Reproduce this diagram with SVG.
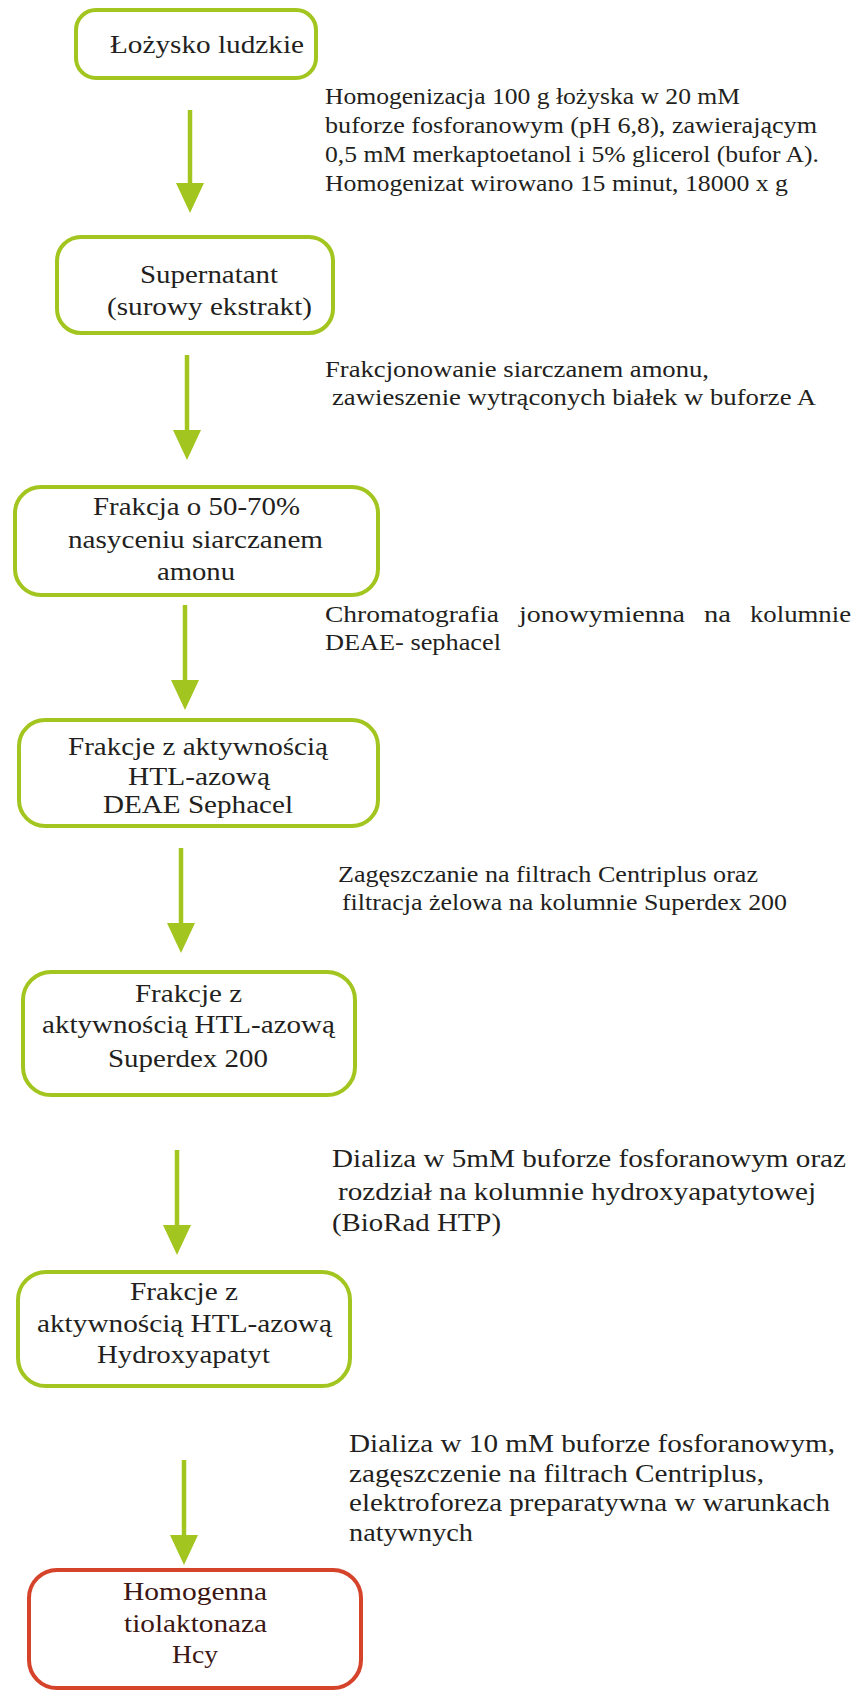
<svg xmlns="http://www.w3.org/2000/svg" width="861" height="1690" viewBox="0 0 861 1690">
<style>
.box{fill:#ffffff;stroke:#a3c51f;stroke-width:4}
.red{fill:#ffffff;stroke:#d4432a;stroke-width:4}
.bt{font-family:"Liberation Serif","Times New Roman",serif;font-size:25px;fill:#231f20}
.rt{font-family:"Liberation Serif","Times New Roman",serif;font-size:25px;fill:#3b1612}
.d{font-family:"Liberation Serif","Times New Roman",serif;font-size:24px;fill:#231f20}
.d2{font-family:"Liberation Serif","Times New Roman",serif;font-size:25px;fill:#231f20}
.arr{stroke:#a3c51f;stroke-width:4.5;fill:none}
</style>
<defs>
<marker id="ah" markerUnits="userSpaceOnUse" viewBox="0 0 30 28" markerWidth="30" markerHeight="28" refX="0" refY="14" orient="auto">
<path d="M0,0 L30,14 L0,28 Z" fill="#a3c51f"/>
</marker>
</defs>
<rect width="861" height="1690" fill="#ffffff"/>

<g id="connectors">
<line class="arr" x1="190" y1="110" x2="190" y2="183" marker-end="url(#ah)"/>
<line class="arr" x1="187" y1="355" x2="187" y2="430" marker-end="url(#ah)"/>
<line class="arr" x1="185" y1="605" x2="185" y2="680" marker-end="url(#ah)"/>
<line class="arr" x1="181" y1="848" x2="181" y2="923" marker-end="url(#ah)"/>
<line class="arr" x1="177" y1="1150" x2="177" y2="1225" marker-end="url(#ah)"/>
<line class="arr" x1="184" y1="1460" x2="184" y2="1535" marker-end="url(#ah)"/>
</g>

<g id="node1">
<rect class="box" x="76" y="10" width="240" height="68" rx="20"/>
<text class="bt" style="font-size:26px" x="110" y="53" textLength="194" lengthAdjust="spacingAndGlyphs">Łożysko ludzkie</text>
</g>

<g id="node2">
<rect class="box" x="57" y="237" width="276" height="96" rx="24"/>
<text class="bt" x="140" y="283" textLength="138" lengthAdjust="spacingAndGlyphs">Supernatant</text>
<text class="bt" x="107" y="315" textLength="205" lengthAdjust="spacingAndGlyphs">(surowy ekstrakt)</text>
</g>

<g id="node3">
<rect class="box" x="15" y="487" width="363" height="108" rx="26"/>
<text class="bt" x="93" y="515" textLength="207" lengthAdjust="spacingAndGlyphs">Frakcja o 50-70%</text>
<text class="bt" x="68" y="548" textLength="255" lengthAdjust="spacingAndGlyphs">nasyceniu siarczanem</text>
<text class="bt" x="157" y="580" textLength="78" lengthAdjust="spacingAndGlyphs">amonu</text>
</g>

<g id="node4">
<rect class="box" x="19" y="720" width="359" height="106" rx="26"/>
<text class="bt" x="68" y="755" textLength="260" lengthAdjust="spacingAndGlyphs">Frakcje z aktywnością</text>
<text class="bt" x="128" y="785" textLength="142" lengthAdjust="spacingAndGlyphs">HTL-azową</text>
<text class="bt" x="103" y="813" textLength="190" lengthAdjust="spacingAndGlyphs">DEAE Sephacel</text>
</g>

<g id="node5">
<rect class="box" x="23" y="972" width="332" height="123" rx="28"/>
<text class="bt" x="135" y="1002" textLength="107" lengthAdjust="spacingAndGlyphs">Frakcje z</text>
<text class="bt" x="42" y="1033" textLength="293" lengthAdjust="spacingAndGlyphs">aktywnością HTL-azową</text>
<text class="bt" x="108" y="1067" textLength="160" lengthAdjust="spacingAndGlyphs">Superdex 200</text>
</g>

<g id="node6">
<rect class="box" x="18" y="1272" width="332" height="114" rx="28"/>
<text class="bt" x="130" y="1300" textLength="108" lengthAdjust="spacingAndGlyphs">Frakcje z</text>
<text class="bt" x="37" y="1332" textLength="295" lengthAdjust="spacingAndGlyphs">aktywnością HTL-azową</text>
<text class="bt" x="97" y="1363" textLength="173" lengthAdjust="spacingAndGlyphs">Hydroxyapatyt</text>
</g>

<g id="node7">
<rect class="red" x="29" y="1570" width="332" height="118" rx="28"/>
<text class="rt" x="123" y="1600" textLength="144" lengthAdjust="spacingAndGlyphs">Homogenna</text>
<text class="rt" x="124" y="1632" textLength="143" lengthAdjust="spacingAndGlyphs">tiolaktonaza</text>
<text class="rt" x="172" y="1663" textLength="46" lengthAdjust="spacingAndGlyphs">Hcy</text>
</g>

<g id="label1">
<text class="d" x="325" y="104" textLength="415" lengthAdjust="spacingAndGlyphs">Homogenizacja 100 g łożyska w 20 mM</text>
<text class="d" x="325" y="133" textLength="492" lengthAdjust="spacingAndGlyphs">buforze fosforanowym (pH 6,8), zawierającym</text>
<text class="d" x="325" y="162" textLength="494" lengthAdjust="spacingAndGlyphs">0,5 mM merkaptoetanol i 5% glicerol (bufor A).</text>
<text class="d" x="325" y="191" textLength="463" lengthAdjust="spacingAndGlyphs">Homogenizat wirowano 15 minut, 18000 x g</text>
</g>

<g id="label2">
<text class="d" x="325" y="377" textLength="384" lengthAdjust="spacingAndGlyphs">Frakcjonowanie siarczanem amonu,</text>
<text class="d" x="332" y="405" textLength="484" lengthAdjust="spacingAndGlyphs">zawieszenie wytrąconych białek w buforze A</text>
</g>

<g id="label3">
<text class="d" x="325" y="622" textLength="174" lengthAdjust="spacingAndGlyphs">Chromatografia</text>
<text class="d" x="519" y="622" textLength="166" lengthAdjust="spacingAndGlyphs">jonowymienna</text>
<text class="d" x="704" y="622" textLength="27" lengthAdjust="spacingAndGlyphs">na</text>
<text class="d" x="750" y="622" textLength="101" lengthAdjust="spacingAndGlyphs">kolumnie</text>
<text class="d" x="325" y="650" textLength="176" lengthAdjust="spacingAndGlyphs">DEAE- sephacel</text>
</g>

<g id="label4">
<text class="d" x="338" y="882" textLength="420" lengthAdjust="spacingAndGlyphs">Zagęszczanie na filtrach Centriplus oraz</text>
<text class="d" x="342" y="910" textLength="445" lengthAdjust="spacingAndGlyphs">filtracja żelowa na kolumnie Superdex 200</text>
</g>

<g id="label5">
<text class="d2" x="332" y="1167" textLength="514" lengthAdjust="spacingAndGlyphs">Dializa w 5mM buforze fosforanowym oraz</text>
<text class="d2" x="338" y="1200" textLength="478" lengthAdjust="spacingAndGlyphs">rozdział na kolumnie hydroxyapatytowej</text>
<text class="d2" x="332" y="1231" textLength="169" lengthAdjust="spacingAndGlyphs">(BioRad HTP)</text>
</g>

<g id="label6">
<text class="d2" x="349" y="1452" textLength="486" lengthAdjust="spacingAndGlyphs">Dializa w 10 mM buforze fosforanowym,</text>
<text class="d2" x="349" y="1482" textLength="415" lengthAdjust="spacingAndGlyphs">zagęszczenie na filtrach Centriplus,</text>
<text class="d2" x="349" y="1511" textLength="481" lengthAdjust="spacingAndGlyphs">elektroforeza preparatywna w warunkach</text>
<text class="d2" x="349" y="1541" textLength="124" lengthAdjust="spacingAndGlyphs">natywnych</text>
</g>
</svg>
